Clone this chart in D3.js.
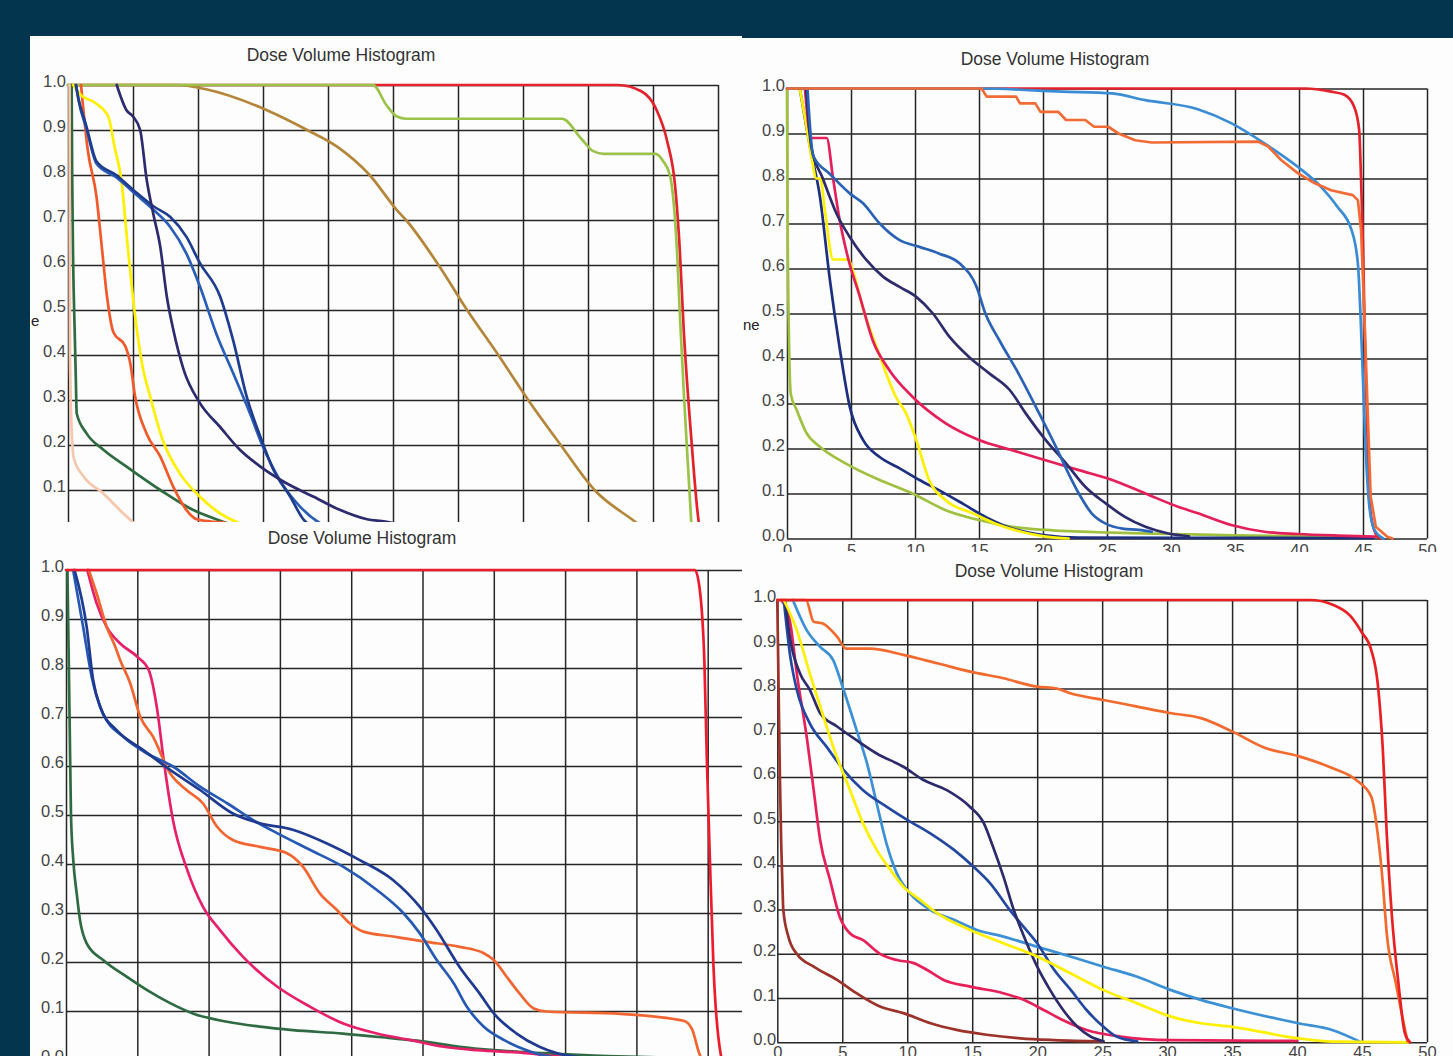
<!DOCTYPE html>
<meta charset="utf-8">
<html>
<head>
<title>Dose Volume Histogram - four plans</title>
<style>
  body { margin: 0; background: #03354f; }
  svg { display: block; }
</style>
</head>
<body>
<script src="https://cdnjs.cloudflare.com/ajax/libs/d3/7.8.5/d3.min.js"></script>
<script>
// ---- shared axis values ----
var doseTicks = [0, 5, 10, 15, 20, 25, 30, 35, 40, 45, 50];
var volumeTicks = [0, 0.1, 0.2, 0.3, 0.4, 0.5, 0.6, 0.7, 0.8, 0.9, 1.0];
var chartTitle = "Dose Volume Histogram";

// ---- panel 1 (top left) : [dose, volume] ----
var p1Red = [[0,1],[42.3,1],[44.1,0.986],[45.2,0.949],[46.1,0.874],[46.7,0.776],[47.0,0.663],[47.4,0.438],[47.95,0.213],[48.5,0.033],[48.7,0]];
var p1Brown = [[0,1],[8.4,1],[10.7,0.99],[15.3,0.944],[18.4,0.9],[20.7,0.863],[23.2,0.8],[25.3,0.722],[26.0,0.7],[28.5,0.6],[30.7,0.5],[33.1,0.4],[35.4,0.3],[37.9,0.2],[40.5,0.1],[43.6,0.03],[44.5,0.01]];
var p1LightGreen = [[0,1],[23.45,1],[24.5,0.955],[25.3,0.93],[26,0.925],[38,0.925],[39.5,0.88],[40.4,0.853],[41.2,0.847],[45.2,0.847],[45.8,0.83],[46.3,0.8],[46.9,0.6],[47.05,0.5],[47.4,0.3],[47.8,0.1],[48.0,0]];
var p1DarkGreen = [[0.28,1],[0.32,0.8],[0.4,0.6],[0.5,0.47],[0.6,0.35],[0.67,0.27],[1.4,0.227],[2.7,0.19],[4.5,0.152],[7.1,0.1],[9.6,0.056],[11.4,0.035],[12.9,0.02],[14,0.01]];
var p1Peach = [[0.12,1],[0.15,0.4],[0.3,0.22],[0.45,0.17],[1.2,0.13],[2.7,0.093],[4.0,0.055],[5.3,0.02],[6,0]];
var p1Orange = [[1.0,1],[1.2,0.94],[1.5,0.86],[2.2,0.75],[2.6,0.64],[3.0,0.53],[3.5,0.45],[4.4,0.42],[4.8,0.38],[5.15,0.31],[6.05,0.225],[7.1,0.174],[8.1,0.107],[9.1,0.056],[9.9,0.035],[11,0.03],[12,0.028]];
var p1Yellow = [[0.4,1],[0.9,0.98],[2.1,0.96],[3.1,0.93],[3.6,0.86],[4.1,0.79],[4.6,0.64],[5.15,0.49],[5.7,0.38],[6.3,0.31],[7.3,0.21],[8.6,0.137],[10.15,0.085],[11.7,0.048],[13.2,0.026],[14.5,0.015]];
var p1BlueOuter = [[0.6,1],[0.8,0.97],[1.4,0.91],[2.2,0.83],[3.7,0.80],[5.3,0.76],[6.6,0.73],[7.85,0.707],[9.1,0.663],[10.15,0.604],[11.7,0.53],[12.7,0.433],[13.75,0.307],[14.8,0.218],[15.8,0.145],[17.1,0.085],[18.1,0.035],[19,0.015]];
var p1BlueInner = [[0.62,1],[0.82,0.965],[1.4,0.905],[2.2,0.825],[3.7,0.795],[5.3,0.755],[6.6,0.722],[7.85,0.685],[9.1,0.626],[10.15,0.552],[11.4,0.448],[12.7,0.36],[14.0,0.27],[15.0,0.196],[16.3,0.122],[17.85,0.063],[19.4,0.026],[20.5,0.012]];
var p1Navy = [[3.75,1],[4.5,0.944],[5.0,0.93],[5.55,0.9],[6.05,0.79],[6.55,0.715],[7.1,0.64],[7.6,0.53],[8.1,0.456],[8.9,0.367],[10.15,0.293],[11.7,0.24],[13.2,0.19],[14.8,0.152],[16.8,0.115],[18.9,0.085],[20.9,0.056],[23,0.035],[24.4,0.03],[26,0.02]];

// ---- panel 2 (top right) ----
var p2LightGreen = [[0,1],[0.05,0.7],[0.15,0.45],[0.3,0.32],[0.75,0.286],[1.53,0.234],[2.57,0.204],[4.64,0.166],[7.24,0.13],[9.8,0.1],[12.4,0.063],[15,0.041],[17.6,0.026],[20.2,0.019],[25.4,0.013],[30,0.01],[35,0.007],[40,0.005],[45,0.004]];
var p2Navy = [[1.0,1],[1.8,0.87],[2.57,0.76],[3.35,0.575],[4.1,0.426],[4.9,0.293],[5.94,0.219],[7.24,0.181],[8.8,0.156],[10.35,0.13],[11.9,0.107],[13.7,0.078],[15.5,0.048],[17.6,0.022],[20.2,0.007],[22.8,0.002],[45.8,0.001]];
var p2Yellow = [[1.0,1],[1.5,0.92],[1.9,0.85],[2.3,0.80],[2.6,0.80],[3.0,0.72],[3.6,0.62],[4.8,0.62],[5.2,0.59],[5.9,0.515],[7.2,0.41],[8.5,0.315],[9.3,0.278],[10.1,0.219],[11.1,0.13],[12.4,0.085],[14.5,0.056],[16.3,0.033],[18.9,0.011],[20.2,0.004],[22,0]];
var p2Crimson = [[1.4,1],[1.9,0.89],[3.1,0.89],[3.6,0.8],[4.1,0.71],[4.8,0.62],[5.7,0.537],[6.7,0.44],[8.0,0.374],[9.8,0.315],[12.4,0.256],[15.0,0.219],[17.6,0.196],[20.2,0.174],[22.8,0.152],[25.4,0.13],[28.0,0.1],[30.6,0.07],[32.1,0.056],[34.7,0.03],[37.3,0.015],[39.9,0.01],[43.8,0.006],[46,0.004]];
var p2Purple = [[1.5,1],[1.9,0.87],[2.8,0.8],[3.9,0.72],[4.9,0.67],[6.2,0.619],[7.5,0.582],[8.8,0.559],[10.1,0.537],[11.4,0.5],[12.7,0.448],[14.2,0.404],[15.8,0.367],[17.4,0.33],[18.65,0.278],[20.2,0.219],[21.8,0.167],[23.3,0.115],[24.9,0.078],[26.4,0.048],[28.0,0.026],[29.8,0.011],[31.4,0.005]];
var p2Blue = [[1.6,1],[2.05,0.85],[3.35,0.81],[4.9,0.767],[5.94,0.745],[7.24,0.70],[8.8,0.663],[10.35,0.648],[11.9,0.633],[13.5,0.611],[14.8,0.56],[15.5,0.5],[16.6,0.44],[18.1,0.366],[19.7,0.278],[21.0,0.204],[22.0,0.144],[22.8,0.1],[23.8,0.056],[24.9,0.033],[26.2,0.022],[27.5,0.019],[28.5,0.015]];
var p2Red = [[0,1],[40.5,1],[42.5,0.993],[43.55,0.986],[44.3,0.96],[44.7,0.908],[44.85,0.797],[45.0,0.648],[45.16,0.426],[45.37,0.204],[45.6,0.056],[46.0,0.01],[46.3,0]];
var p2Sky = [[0,1],[15,1],[21.5,0.993],[25.4,0.989],[28,0.974],[32.1,0.954],[34.7,0.923],[37.3,0.878],[39.9,0.826],[41.7,0.782],[43.0,0.737],[44.1,0.686],[44.6,0.611],[44.8,0.5],[45.0,0.352],[45.2,0.204],[45.5,0.07],[45.9,0.019],[46.6,0]];
var p2Orange = [[0,1],[15.2,1],[15.6,0.982],[17.9,0.982],[18.2,0.967],[19.4,0.967],[19.8,0.948],[21.2,0.948],[21.8,0.93],[23.3,0.93],[24.0,0.915],[25.1,0.915],[25.9,0.9],[27.2,0.885],[28.5,0.88],[36.8,0.882],[37.6,0.871],[38.6,0.841],[39.9,0.812],[41.2,0.79],[42.5,0.774],[44.2,0.763],[44.6,0.752],[44.85,0.686],[45.1,0.5],[45.37,0.278],[45.6,0.093],[46.0,0.026],[46.9,0.004],[47.3,0]];

// ---- panel 3 (bottom left) ----
var p3Green = [[0.1,1],[0.15,0.9],[0.25,0.7],[0.35,0.5],[0.51,0.408],[0.75,0.34],[0.98,0.286],[1.45,0.238],[2.6,0.204],[4.25,0.17],[5.66,0.143],[7.3,0.116],[8.9,0.095],[11.3,0.078],[13.6,0.068],[15.9,0.061],[19.4,0.054],[22.95,0.044],[25.3,0.037],[27.6,0.027],[30.0,0.02],[33.5,0.014],[38,0.008],[42,0.005]];
var p3Crimson = [[1.5,1],[2.15,0.932],[2.85,0.884],[3.8,0.85],[5.0,0.823],[5.8,0.796],[6.4,0.714],[6.85,0.612],[7.5,0.49],[8.5,0.388],[9.6,0.313],[10.8,0.265],[12.4,0.211],[14.8,0.15],[17.1,0.109],[19.4,0.075],[21.8,0.054],[24.1,0.041],[26.5,0.027],[28.8,0.02],[32.3,0.014],[34.6,0.007],[38,0.004]];
var p3Orange = [[1.6,1],[2.15,0.952],[2.85,0.884],[3.45,0.844],[3.8,0.816],[4.5,0.769],[5.2,0.701],[6.1,0.66],[7.3,0.585],[8.45,0.551],[9.6,0.524],[10.6,0.476],[11.7,0.449],[13.6,0.435],[15.5,0.422],[16.6,0.395],[17.8,0.34],[19.0,0.306],[19.9,0.279],[20.85,0.262],[22.95,0.252],[25.3,0.241],[27.6,0.231],[29.3,0.218],[30.0,0.204],[30.9,0.17],[31.8,0.136],[32.8,0.105],[33.7,0.099],[38.9,0.094],[43.3,0.08],[43.9,0.063],[44.4,0.014],[44.6,0]];
var p3Blue = [[0.5,1],[1.2,0.884],[1.8,0.782],[2.6,0.707],[4.0,0.66],[5.66,0.626],[7.5,0.599],[9.4,0.558],[11.3,0.524],[13.1,0.49],[14.8,0.463],[17.1,0.429],[19.4,0.395],[21.8,0.347],[23.65,0.3],[24.8,0.259],[26.0,0.204],[27.2,0.156],[28.1,0.109],[29.3,0.068],[30.7,0.041],[32.3,0.02],[33.9,0.007],[36,0.002]];
var p3Navy = [[0.6,1],[1.45,0.884],[1.9,0.776],[2.4,0.72],[3.55,0.673],[5.4,0.633],[7.3,0.592],[9.4,0.551],[11.7,0.503],[13.6,0.483],[15.9,0.470],[18.3,0.442],[20.6,0.408],[22.95,0.367],[24.8,0.313],[26.0,0.265],[27.6,0.19],[29.0,0.136],[30.0,0.095],[31.6,0.054],[33.2,0.027],[34.4,0.014],[36.5,0.004]];
var p3Red = [[0,1],[44.1,1],[44.43,0.963],[44.77,0.81],[44.94,0.614],[45.16,0.404],[45.4,0.195],[45.9,0.014],[46.0,0]];

// ---- panel 4 (bottom right) ----
var p4Maroon = [[0,1],[0.1,0.8],[0.2,0.6],[0.3,0.45],[0.4,0.35],[0.46,0.3],[0.85,0.239],[1.5,0.2],[2.8,0.171],[4.6,0.141],[6.1,0.111],[7.9,0.081],[9.7,0.066],[11.8,0.043],[13.8,0.028],[16.1,0.017],[18.7,0.009],[21.3,0.005],[25.1,0.002]];
var p4Crimson = [[0.3,1],[1.0,0.947],[1.5,0.834],[2.3,0.683],[2.8,0.57],[3.3,0.457],[4.06,0.367],[4.8,0.284],[5.6,0.246],[6.6,0.231],[7.9,0.2],[9.2,0.186],[10.5,0.179],[11.5,0.164],[12.8,0.141],[14.85,0.126],[17.4,0.111],[18.96,0.096],[20.5,0.073],[22.0,0.05],[23.8,0.028],[26.4,0.013],[30.3,0.005],[40,0.003]];
var p4Sky = [[1.2,1],[2.26,0.932],[3.3,0.894],[4.3,0.864],[5.1,0.797],[6.1,0.706],[6.9,0.631],[7.65,0.54],[8.4,0.45],[9.2,0.382],[10.2,0.337],[11.8,0.299],[13.6,0.277],[15.36,0.254],[17.4,0.239],[20.0,0.216],[22.55,0.194],[25.1,0.171],[27.7,0.148],[30.3,0.118],[32.6,0.096],[35.0,0.077],[40.1,0.043],[42.7,0.028],[44.8,0.002]];
var p4Blue = [[0.5,1],[1.0,0.872],[1.5,0.797],[2.5,0.721],[3.8,0.668],[5.1,0.616],[6.6,0.57],[8.4,0.533],[10.0,0.503],[11.8,0.472],[13.6,0.435],[15.1,0.397],[16.4,0.359],[17.9,0.299],[18.96,0.261],[20.0,0.224],[21.3,0.164],[22.6,0.118],[23.8,0.073],[25.1,0.035],[26.1,0.013],[27.7,0.002]];
var p4Purple = [[0.6,1],[1.0,0.91],[1.75,0.834],[2.5,0.797],[3.3,0.744],[4.6,0.714],[6.1,0.683],[7.65,0.653],[9.7,0.623],[11.25,0.593],[13.05,0.57],[14.8,0.533],[15.9,0.495],[16.6,0.442],[17.4,0.375],[18.2,0.299],[19.2,0.224],[20.0,0.171],[21.0,0.118],[22.0,0.073],[23.1,0.035],[24.1,0.013],[25.1,0.002]];
var p4Yellow = [[0.5,1],[1.5,0.932],[2.5,0.834],[3.55,0.736],[4.57,0.646],[5.6,0.57],[6.6,0.495],[7.65,0.435],[8.7,0.39],[9.7,0.352],[11.0,0.322],[12.3,0.292],[14.85,0.254],[17.4,0.224],[20.0,0.194],[22.55,0.156],[25.1,0.118],[27.7,0.088],[30.3,0.058],[32.6,0.043],[35.0,0.035],[40.1,0.009],[42.7,0.0015],[48.5,0]];
var p4Orange = [[0,1],[2.2,1],[2.8,0.951],[3.5,0.947],[4.6,0.917],[5.3,0.89],[7.1,0.89],[9.7,0.876],[12.3,0.857],[14.85,0.838],[17.4,0.823],[20.0,0.804],[21.5,0.8],[22.55,0.789],[25.1,0.774],[27.7,0.759],[30.3,0.744],[32.6,0.733],[35.0,0.703],[37.5,0.666],[40.1,0.647],[42.7,0.62],[44.5,0.594],[45.7,0.556],[46.2,0.473],[46.6,0.36],[46.9,0.247],[47.6,0.134],[48.1,0.058],[48.5,0.002]];
var p4Red = [[0,1],[41.0,1],[42.7,0.99],[44.1,0.964],[45.0,0.926],[45.7,0.888],[46.2,0.813],[46.6,0.662],[46.9,0.473],[47.3,0.285],[47.8,0.134],[48.3,0.02],[48.7,0]];

// ---- layout of the four cropped screenshots ----
var panels = [
  { box: [30, 36, 712, 486], x0: 68, x1: 718, yTop: 85, yBot: 535, titleX: 341, titleY: 61, padY: 2, xLabels: false,
    stub: { text: "e", x: 31, y: 326 },
    series: [
      { d: p1Red, c: "#e3232b" }, { d: p1Brown, c: "#b5863a" }, { d: p1LightGreen, c: "#9bc34a" },
      { d: p1DarkGreen, c: "#2e6b40" }, { d: p1Peach, c: "#f6c6ad" }, { d: p1Orange, c: "#f05a2a" },
      { d: p1Yellow, c: "#fff000" }, { d: p1BlueInner, c: "#2a5db8" }, { d: p1BlueOuter, c: "#1f3d8f" },
      { d: p1Navy, c: "#2d2b70" }
    ] },
  { box: [742, 38, 711, 514], x0: 787, x1: 1427, yTop: 88.5, yBot: 538.5, titleX: 1055, titleY: 65, padY: 2, padX: 6, xLabels: true,
    stub: { text: "ne", x: 743, y: 330 },
    series: [
      { d: p2LightGreen, c: "#a0c040" }, { d: p2Navy, c: "#1d3080" }, { d: p2Yellow, c: "#fff000" },
      { d: p2Crimson, c: "#e41f5a" }, { d: p2Purple, c: "#2e2c6c" }, { d: p2Blue, c: "#2a63b5" },
      { d: p2Red, c: "#e3232b" }, { d: p2Sky, c: "#3a8cd5" }, { d: p2Orange, c: "#f26b35", step: true }
    ] },
  { box: [30, 522, 712, 534], x0: 66, x1: 779, yTop: 570, yBot: 1060, titleX: 362, titleY: 544, padY: 2, xLabels: false,
    series: [
      { d: p3Green, c: "#2f6b42" }, { d: p3Crimson, c: "#e6206a" }, { d: p3Orange, c: "#f26530" },
      { d: p3Blue, c: "#2559b4" }, { d: p3Navy, c: "#1f3a91" }, { d: p3Red, c: "#ed1c2c" }
    ] },
  { box: [742, 552, 711, 504], x0: 777.3, x1: 1427, yTop: 600, yBot: 1042.3, titleX: 1049, titleY: 577, padY: 1, padX: 4, xLabels: true,
    series: [
      { d: p4Maroon, c: "#9c3229" }, { d: p4Crimson, c: "#e8205a" }, { d: p4Sky, c: "#3b90d6" },
      { d: p4Blue, c: "#2348a2" }, { d: p4Purple, c: "#2e2b6d" }, { d: p4Yellow, c: "#fff000" },
      { d: p4Orange, c: "#f36a2e" }, { d: p4Red, c: "#e82024" }
    ] }
];

var FONT = "'Liberation Sans', Arial, Helvetica, sans-serif";

var svg = d3.select("body").append("svg")
  .attr("width", 1453).attr("height", 1056);

svg.append("rect").attr("width", 1453).attr("height", 1056).attr("fill", "#03354f");

var defs = svg.append("defs");

panels.forEach(function (p, i) {
  defs.append("clipPath").attr("id", "clip" + i)
    .append("rect").attr("x", p.box[0]).attr("y", p.box[1]).attr("width", p.box[2]).attr("height", p.box[3]);

  var g = svg.append("g").attr("clip-path", "url(#clip" + i + ")");

  g.append("rect")
    .attr("x", p.box[0]).attr("y", p.box[1]).attr("width", p.box[2]).attr("height", p.box[3])
    .attr("fill", "#fdfdfd");

  var x = d3.scaleLinear().domain([0, 50]).range([p.x0, p.x1]);
  var y = d3.scaleLinear().domain([0, 1]).range([p.yBot, p.yTop]);

  // horizontal grid + volume labels
  var ay = g.append("g").attr("transform", "translate(" + p.x0 + ",0)")
    .call(d3.axisLeft(y).tickValues(volumeTicks).tickSize(-(p.x1 - p.x0))
      .tickPadding(p.padY).tickFormat(d3.format(".1f")));
  // vertical grid + dose labels (hidden under the next crop in panels 1 and 3)
  var ax = g.append("g").attr("transform", "translate(0," + p.yBot + ")")
    .call(d3.axisBottom(x).tickValues(doseTicks).tickSize(-(p.yBot - p.yTop))
      .tickPadding(p.padX || 5).tickFormat(p.xLabels ? d3.format("d") : function () { return ""; }));

  [ay, ax].forEach(function (a) {
    a.select(".domain").remove();
    a.selectAll(".tick line").attr("stroke", "#262626").attr("stroke-width", 1.5);
    a.selectAll(".tick text").attr("fill", "#444").attr("font-size", 16.5).attr("font-family", FONT);
  });
  ay.selectAll(".tick text").attr("dy", "0.12em");
  if (!p.xLabels) ax.selectAll(".tick text").remove();

  g.append("text")
    .attr("x", p.titleX).attr("y", p.titleY)
    .attr("text-anchor", "middle")
    .attr("font-family", FONT).attr("font-size", 17.5).attr("fill", "#333")
    .text(chartTitle);

  if (p.stub) {
    g.append("text").attr("x", p.stub.x).attr("y", p.stub.y)
      .attr("font-family", FONT).attr("font-size", 15).attr("fill", "#222")
      .text(p.stub.text);
  }

  var plot = g.append("g");
  p.series.forEach(function (s) {
    var line = d3.line()
      .x(function (d) { return x(d[0]); })
      .y(function (d) { return y(d[1]); })
      .curve(s.step ? d3.curveLinear : d3.curveMonotoneX);
    plot.append("path")
      .datum(s.d)
      .attr("d", line)
      .attr("fill", "none")
      .attr("stroke", s.c)
      .attr("stroke-width", 2.7)
      .attr("stroke-linejoin", "round")
      .attr("stroke-linecap", "round");
  });
});
</script>
</body>
</html>
